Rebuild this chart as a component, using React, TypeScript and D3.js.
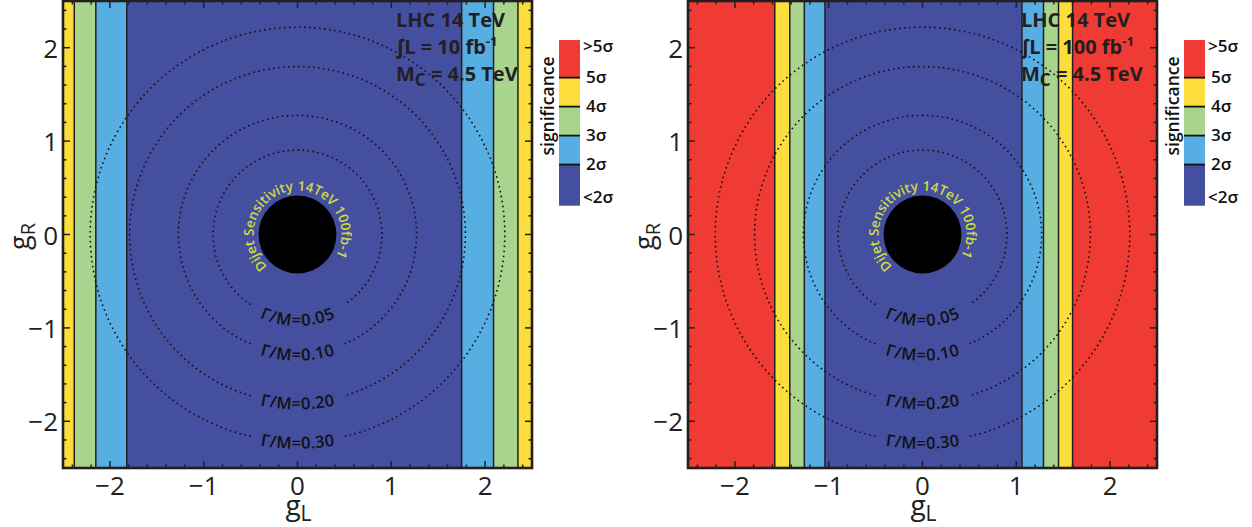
import React from 'react';
import * as d3 from 'd3';

const W = 1252;
const H = 527;

// axis data
const gDomain: [number, number] = [-2.5, 2.5];
const majorTicks = [-2, -1, 0, 1, 2];
const majorTickLabels = ['\u22122', '\u22121', '0', '1', '2'];
const minorTicks = d3.range(-24, 25, 2).map((v) => v / 10);

// significance legend
const sigmaLevelLabels = ['<2σ', '2σ', '3σ', '4σ', '5σ', '>5σ'];
const sigmaBoundaries = [2, 3, 4, 5];
const sigmaLevelColors = ['#444fa0', '#57aee2', '#a9d48d', '#fbdd3b', '#ef3b33'];
const sigmaBarRange = [0.58, 6.3];

// bands (g_L edges and significance level index) for each panel
const bandEdges10 = [-2.5, -2.38, -2.15, -1.82, 1.75, 2.09, 2.35, 2.5];
const bandLevels10 = [3, 2, 1, 0, 1, 2, 3];
const bandEdges100 = [-2.5, -1.575, -1.415, -1.26, -1.04, 1.06, 1.29, 1.45, 1.6, 2.5];
const bandLevels100 = [4, 3, 2, 1, 0, 1, 2, 3, 4];

// width contours
const widthRatios = ['0.05', '0.10', '0.20', '0.30'];
const contourRadii = [0.9, 1.27, 1.79, 2.21];

// excluded dijet region
const dijetRadius = 0.415;
const dijetLabel = 'Dijet Sensitivity 14TeV 100fb-1';

const luminosities = ['10', '100'];
const energyLabel = 'LHC 14 TeV';
const massLabel = ' = 4.5 TeV';

const FONT = "'Open Sans', 'DejaVu Sans', sans-serif";
const INK = '#231f20';

type PanelProps = {
  id: string;
  x0: number;
  edges: number[];
  levels: number[];
  lumi: string;
};

function Panel({ id, x0, edges, levels, lumi }: PanelProps) {
  const plotW = 469;
  const top = 1;
  const bottom = 468;
  const x = d3.scaleLinear().domain(gDomain).range([x0, x0 + plotW]);
  const y = d3.scaleLinear().domain(gDomain).range([bottom, top]);
  const cx = x(0);
  const cy = y(0);
  const unit = x(1) - x(0);

  const bands = levels.map((lv, i) => ({ lv, a: edges[i], b: edges[i + 1] }));

  const dotted = contourRadii.map((r) => {
    const rp = r * unit;
    const half = 47;
    const g = Math.asin(Math.min(1, half / rp));
    const p = d3.path();
    const a0 = Math.PI / 2 + g;
    const a1 = Math.PI / 2 - g + 2 * Math.PI;
    p.moveTo(cx + rp * Math.cos(a0), cy + rp * Math.sin(a0));
    p.arc(cx, cy, rp, a0, a1, false);
    const lp = d3.path();
    lp.moveTo(cx - rp, cy);
    lp.arc(cx, cy, rp, Math.PI, 0, true);
    return { dots: p.toString(), labelPath: lp.toString() };
  });

  const rb = dijetRadius * unit + 5;
  const da0 = (122 * Math.PI) / 180;
  const da1 = (400 * Math.PI) / 180;
  const dp = d3.path();
  dp.moveTo(cx + rb * Math.cos(da0), cy + rb * Math.sin(da0));
  dp.arc(cx, cy, rb, da0, da1, false);

  const tx = x(1.05);

  const sig = d3.scaleLinear().domain(sigmaBarRange).range([205.7, 40]);
  const lx = x0 + plotW + 27;
  const lw = 21;

  return (
    <g>
      <defs>
        <clipPath id={`clip-${id}`}>
          <rect x={x0} y={top} width={plotW} height={bottom - top} />
        </clipPath>
      </defs>
      <g clipPath={`url(#clip-${id})`}>
        {bands.map((b, i) => (
          <rect
            key={i}
            x={x(b.a)}
            y={top}
            width={x(b.b) - x(b.a)}
            height={bottom - top}
            fill={sigmaLevelColors[b.lv]}
          />
        ))}
        {edges.slice(1, -1).map((e, i) => (
          <line key={i} x1={x(e)} x2={x(e)} y1={top} y2={bottom} stroke={INK} strokeWidth={1.5} />
        ))}
        {dotted.map((d, i) => (
          <g key={i}>
            <path d={d.dots} fill="none" stroke="#111" strokeWidth={1.6} strokeDasharray="1.6 3.4" />
            <path id={`lp-${id}-${i}`} d={d.labelPath} fill="none" stroke="none" />
            <text fontFamily={FONT} fontSize={16.5} fontWeight={600} fill="#111" dominantBaseline="central">
              <textPath href={`#lp-${id}-${i}`} startOffset="50%" textAnchor="middle">
                {`Γ/M=${widthRatios[i]}`}
              </textPath>
            </text>
          </g>
        ))}
        <circle cx={cx} cy={cy} r={dijetRadius * unit} fill="#000" />
        <path id={`dp-${id}`} d={dp.toString()} fill="none" stroke="none" />
        <text fontFamily={FONT} fontSize={13.5} fontWeight={600} fill="#cfdc3e">
          <textPath href={`#dp-${id}`} startOffset="50%" textAnchor="middle">
            {dijetLabel}
          </textPath>
        </text>
      </g>

      {/* ticks */}
      {minorTicks.map((t, i) => {
        const major = Math.abs(t - Math.round(t)) < 1e-6;
        const len = major ? 7 : 3.5;
        return (
          <g key={i} stroke={INK} strokeWidth={1.5}>
            <line x1={x(t)} x2={x(t)} y1={bottom} y2={bottom - len} />
            <line x1={x(t)} x2={x(t)} y1={top} y2={top + len} />
            <line x1={x0} x2={x0 + len} y1={y(t)} y2={y(t)} />
            <line x1={x0 + plotW} x2={x0 + plotW - len} y1={y(t)} y2={y(t)} />
          </g>
        );
      })}
      <rect x={x0} y={top} width={plotW} height={bottom - top} fill="none" stroke={INK} strokeWidth={2.6} />

      {/* tick labels */}
      {majorTicks.map((t, i) => (
        <text key={`x${i}`} x={x(t)} y={495} textAnchor="middle" fontFamily={FONT} fontSize={26} fill={INK}>
          {majorTickLabels[i]}
        </text>
      ))}
      {majorTicks.map((t, i) => (
        <text
          key={`y${i}`}
          x={x0 - 5}
          y={y(t)}
          textAnchor="end"
          dominantBaseline="central"
          fontFamily={FONT}
          fontSize={26}
          fill={INK}
        >
          {majorTickLabels[i]}
        </text>
      ))}

      {/* axis titles */}
      <text x={cx + 1} y={515} textAnchor="middle" fontFamily={FONT} fontSize={28} fill={INK}>
        g<tspan fontSize={21} dy={6}>L</tspan>
      </text>
      <text
        transform={`translate(${x0 - 34},${cy + 2}) rotate(-90)`}
        textAnchor="middle"
        fontFamily={FONT}
        fontSize={27}
        fill={INK}
      >
        g<tspan fontSize={20} dy={6}>R</tspan>
      </text>

      {/* annotation */}
      <g fontFamily={FONT} fontWeight={700} fontSize={20} fill={INK}>
        <text x={tx} y={27}>{energyLabel}</text>
        <text x={tx} y={54}>
          ∫L = {lumi} fb<tspan fontSize={13} dy={-8}>-1</tspan>
        </text>
        <text x={tx} y={81}>
          M<tspan fontSize={17} dy={5}>C</tspan>
          <tspan dy={-5}>{massLabel}</tspan>
        </text>
      </g>

      {/* significance colour bar */}
      {sigmaLevelColors.map((c, i) => {
        const lo = i === 0 ? sigmaBarRange[0] : sigmaBoundaries[i - 1];
        const hi = i === sigmaLevelColors.length - 1 ? sigmaBarRange[1] : sigmaBoundaries[i];
        return <rect key={i} x={lx} y={sig(hi)} width={lw} height={sig(lo) - sig(hi)} fill={c} />;
      })}
      {sigmaBoundaries.map((b, i) => (
        <line key={i} x1={lx} x2={lx + lw} y1={sig(b)} y2={sig(b)} stroke="#111" strokeWidth={1.8} />
      ))}
      <g fontFamily={FONT} fontWeight={600} fontSize={17} fill="#111" dominantBaseline="central">
        <text x={lx + lw + 3} y={sig(sigmaBarRange[1]) + 5}>{sigmaLevelLabels[5]}</text>
        {sigmaBoundaries.map((b, i) => (
          <text key={i} x={lx + lw + 6} y={sig(b) - 1}>
            {sigmaLevelLabels[i + 1]}
          </text>
        ))}
        <text x={lx + lw + 3} y={sig(sigmaBarRange[0]) - 9}>{sigmaLevelLabels[0]}</text>
        <text transform={`translate(${lx - 12},106) rotate(-90)`} textAnchor="middle" fontSize={17.5}>
          significance
        </text>
      </g>
    </g>
  );
}

export default function App() {
  return (
    <svg
      width={W}
      height={H}
      viewBox={`0 0 ${W} ${H}`}
      style={{ position: 'absolute', left: 0, top: 0, background: '#fff' }}
    >
      <Panel id="a" x0={63} edges={bandEdges10} levels={bandLevels10} lumi={luminosities[0]} />
      <Panel id="b" x0={688} edges={bandEdges100} levels={bandLevels100} lumi={luminosities[1]} />
    </svg>
  );
}
